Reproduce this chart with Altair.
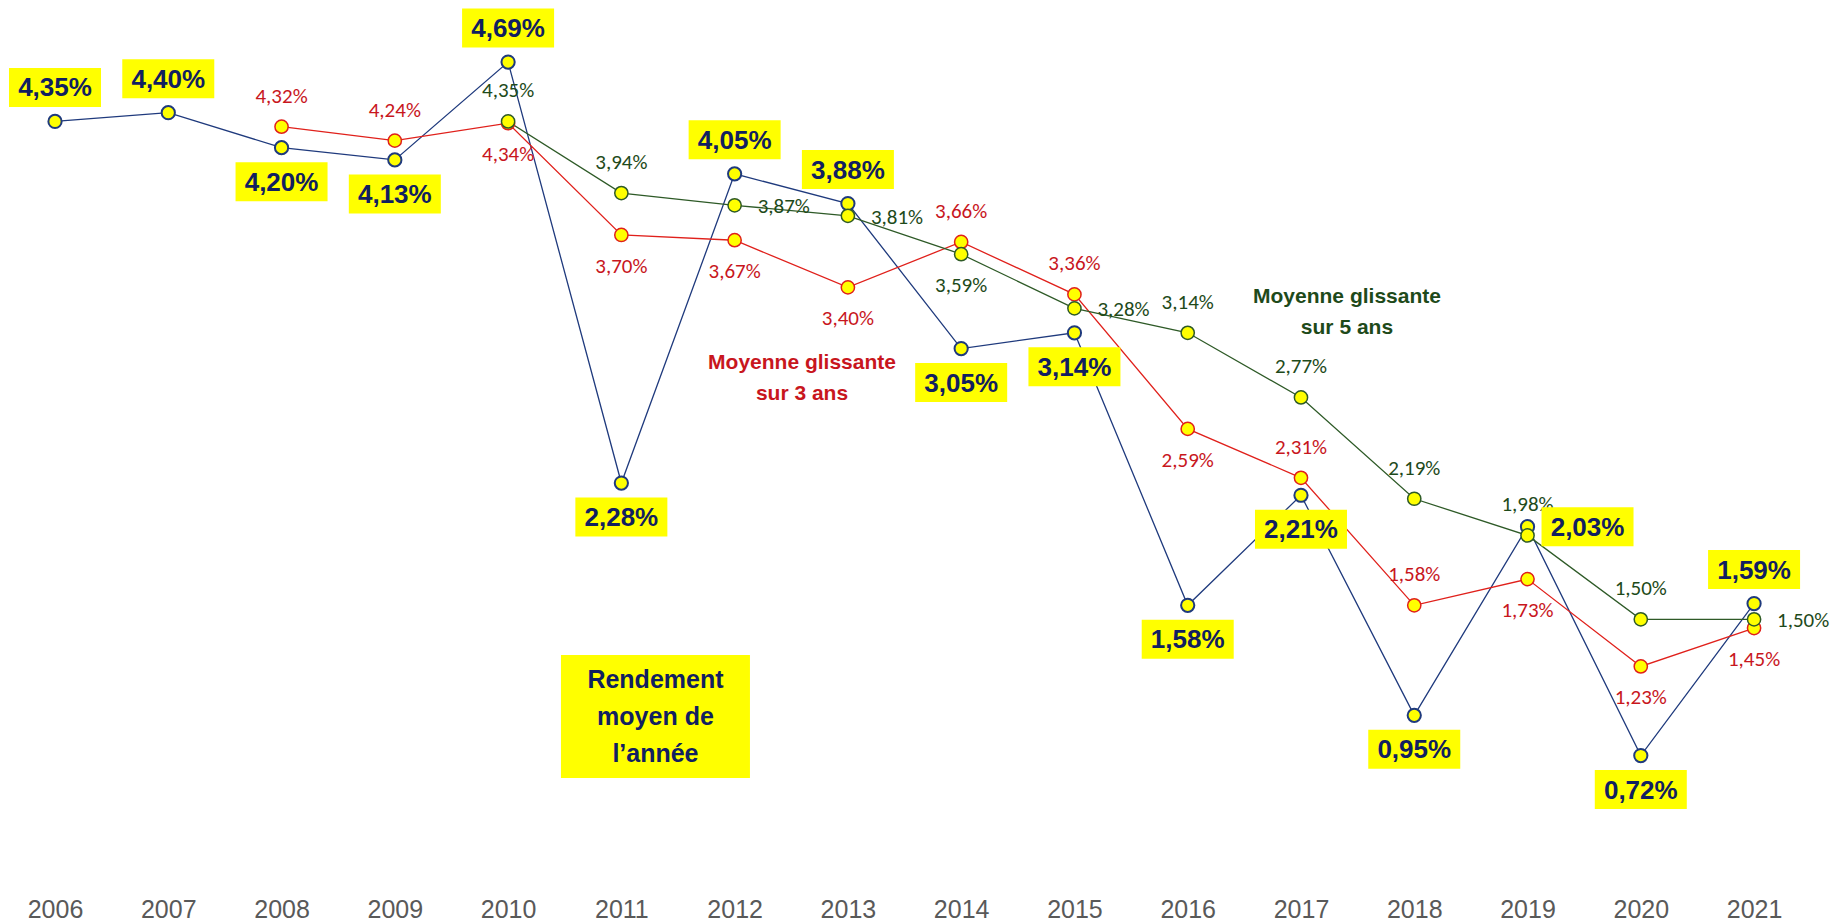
import altair as alt
import pandas as pd

# ---- data ----
ANNEES = list(range(2006, 2022))
RENDEMENT = [4.35, 4.40, 4.20, 4.13, 4.69, 2.28, 4.05, 3.88, 3.05, 3.14, 1.58, 2.21, 0.95, 2.03, 0.72, 1.59]
MG3_ANNEES = list(range(2008, 2022))
MG3 = [4.32, 4.24, 4.34, 3.70, 3.67, 3.40, 3.66, 3.36, 2.59, 2.31, 1.58, 1.73, 1.23, 1.45]
MG5_ANNEES = list(range(2010, 2022))
MG5 = [4.35, 3.94, 3.87, 3.81, 3.59, 3.28, 3.14, 2.77, 2.19, 1.98, 1.50, 1.50]

# label placement (haut = above, bas = below, droite = right)
RENDEMENT_POS = ["haut", "haut", "bas", "bas", "haut", "bas", "haut", "haut",
                 "bas", "bas", "bas", "bas", "bas", "droite", "bas", "haut"]
MG3_POS = ["haut", "haut", "bas", "bas", "bas", "bas", "haut", "haut",
           "bas", "haut", "haut", "bas", "bas", "bas"]
MG5_POS = ["haut", "haut", "droite", "droite", "bas", "droite", "haut", "haut",
           "haut", "haut", "haut", "droite"]

NAVY_LINE = "#1F3A7D"
NAVY_TEXT = "#112060"
RED_LINE = "#E0201B"
RED_TEXT = "#C8161D"
GREEN_LINE = "#2E5A27"
GREEN_TEXT = "#1E4A1A"
YELLOW = "#FFFF00"


def fmt(v):
    return f"{v:.2f}".replace(".", ",") + "%"


def frame(years, values, pos, serie):
    return pd.DataFrame({
        "annee": years,
        "valeur": values,
        "pos": pos,
        "label": [fmt(v) for v in values],
        "serie": serie,
    })


df_r = frame(ANNEES, RENDEMENT, RENDEMENT_POS, "r")
df_3 = frame(MG3_ANNEES, MG3, MG3_POS, "m3")
df_5 = frame(MG5_ANNEES, MG5, MG5_POS, "m5")

xscale = alt.Scale(domain=[2005.585, 2021.741], nice=False, zero=False)
yscale = alt.Scale(domain=[-0.004, 4.988], nice=False, zero=False)

X = alt.X("annee:Q", scale=xscale,
          axis=alt.Axis(values=ANNEES, format="d", title=None, grid=False, ticks=False,
                        domain=False, labelFontSize=25, labelColor="#595959",
                        labelFont="Liberation Sans", labelPadding=15, labelFlush=False,
                        labelOverlap=False))
Y = alt.Y("valeur:Q", scale=yscale, axis=None)


def line(df, color, sw):
    return alt.Chart(df).mark_line(color=color, strokeWidth=sw).encode(x=X, y=Y)


def points(df, stroke, sw):
    return alt.Chart(df).mark_point(shape="circle", filled=True, fill=YELLOW, opacity=1,
                                    fillOpacity=1, stroke=stroke, strokeWidth=sw,
                                    size=175).encode(x=X, y=Y)


def small_labels(df, color):
    layers = []
    font = "Carlito, Liberation Sans"
    base = alt.Chart(df)
    layers.append(base.transform_filter(alt.datum.pos == "haut").mark_text(
        font=font, fontSize=21, color=color, baseline="middle", align="center", dy=-30
    ).encode(x=X, y=Y, text="label:N"))
    layers.append(base.transform_filter(alt.datum.pos == "bas").mark_text(
        font=font, fontSize=21, color=color, baseline="middle", align="center", dy=32
    ).encode(x=X, y=Y, text="label:N"))
    layers.append(base.transform_filter(alt.datum.pos == "droite").mark_text(
        font=font, fontSize=21, color=color, baseline="middle", align="left", dx=23, dy=2
    ).encode(x=X, y=Y, text="label:N"))
    return layers


def big_labels(df):
    base = alt.Chart(df)
    layers = []
    specs = [("haut", 0, -34), ("bas", 0, 34), ("droite", 60, 0)]
    for p, dx, dy in specs:
        sub = base.transform_filter(alt.datum.pos == p)
        layers.append(sub.mark_rect(color=YELLOW, width=92, height=39, xOffset=dx, yOffset=dy,
                                    opacity=1).encode(x=X, y=Y))
        layers.append(sub.mark_text(font="Liberation Sans", fontWeight="bold", fontSize=26,
                                    color=NAVY_TEXT, baseline="middle", align="center",
                                    dx=dx, dy=dy + 1).encode(x=X, y=Y, text="label:N"))
    return layers


# annotations (anchor = centre of the text block)
ann3 = pd.DataFrame({"annee": [2012.595], "valeur": [2.878]})
ann5 = pd.DataFrame({"annee": [2017.406], "valeur": [3.256]})
annR = pd.DataFrame({"annee": [2011.301], "valeur": [0.944]})

a3 = alt.Chart(ann3).mark_text(font="Liberation Sans", fontWeight="bold", fontSize=21,
                               color=RED_TEXT, baseline="middle", align="center",
                               lineHeight=31, dy=-15.5).encode(
    x=X, y=Y, text=alt.value(["Moyenne glissante", "sur 3 ans"]))
a5 = alt.Chart(ann5).mark_text(font="Liberation Sans", fontWeight="bold", fontSize=21,
                               color=GREEN_TEXT, baseline="middle", align="center",
                               lineHeight=31, dy=-15.5).encode(
    x=X, y=Y, text=alt.value(["Moyenne glissante", "sur 5 ans"]))
aR_box = alt.Chart(annR).mark_rect(color=YELLOW, width=189, height=123, opacity=1).encode(x=X, y=Y)
aR = alt.Chart(annR).mark_text(font="Liberation Sans", fontWeight="bold", fontSize=25,
                               color=NAVY_TEXT, baseline="middle", align="center",
                               lineHeight=37, dy=-36).encode(
    x=X, y=Y, text=alt.value(["Rendement", "moyen de", "l\u2019année"]))

layers = [
    line(df_r, NAVY_LINE, 1.3),
    line(df_3, RED_LINE, 1.3),
    line(df_5, GREEN_LINE, 1.3),
    points(df_r, NAVY_LINE, 2),
    points(df_3, RED_LINE, 1.5),
    points(df_5, GREEN_LINE, 1.5),
]
layers += small_labels(df_3, RED_TEXT)
layers += small_labels(df_5, GREEN_TEXT)
layers += big_labels(df_r)
layers += [a3, a5, aR_box, aR]

chart = alt.layer(*layers).properties(
    width=1830, height=872, padding=0, background="white"
).configure_view(stroke=None)

chart.save("out.html", embed_options={"renderer": "svg", "actions": False})
